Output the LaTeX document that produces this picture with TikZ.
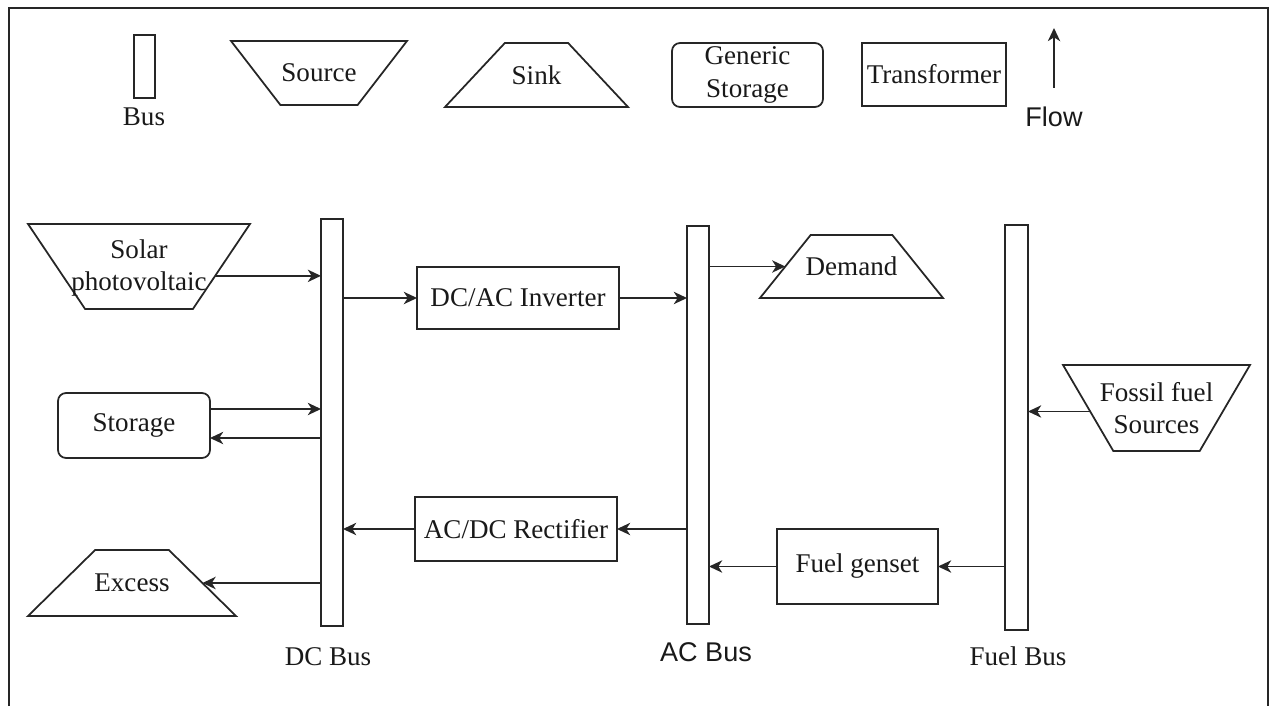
\documentclass[tikz,border=0pt]{standalone}
\usepackage{fontspec}
\setmainfont{Liberation Serif}
\newfontfamily\arialf{Liberation Sans}
\usetikzlibrary{shapes.geometric,arrows.meta,calc}
\begin{document}
\begin{tikzpicture}[x=0.02cm,y=-0.02cm,
  every node/.style={font=\fontsize{15.4}{18.5}\selectfont, text=black!90, inner sep=0pt, outer sep=0pt},
  ln/.style={draw=black!85, line width=1pt},
  boxnode/.style={ln, rectangle},
  roundnode/.style={ln, rectangle, rounded corners=0.16cm},
  trap/.style={ln, trapezium, trapezium stretches=true, inner sep=1pt},
  srcshape/.style={trap, shape border rotate=180},
  txt/.style={align=center},
  sanstxt/.style={font=\fontsize{15.4}{18.5}\selectfont\arialf},
  arr/.style={ln, -{Stealth[length=7.5pt,width=7pt,inset=2.2pt]}}
]
\useasboundingbox (0,0) rectangle (1270,706);

% frame
\draw[draw=black!85, line width=1.1pt] (9,706) -- (9,8) -- (1268,8) -- (1268,706);

% ---------- legend ----------
\node[boxnode, minimum width=0.42cm, minimum height=1.26cm] (lbus) at (144.5,66.5) {};
\node (lbustxt) at (144,117) {Bus};
\node[srcshape, minimum width=3.52cm, minimum height=1.28cm,
      trapezium left angle=57.4, trapezium right angle=57.4,
      label={[name=lsrctxt]center:Source}] (lsrc) at (319,73) {};
\node[trap, minimum width=3.66cm, minimum height=1.28cm,
      trapezium left angle=46.6, trapezium right angle=46.6,
      label={[name=lsinktxt]center:Sink}] (lsink) at (536.5,75) {};
\node[roundnode, minimum width=3.02cm, minimum height=1.28cm, txt] (lstore) at (747.5,75) {Generic\\Storage};
\node[boxnode, minimum width=2.88cm, minimum height=1.26cm] (ltrans) at (934,74.5) {Transformer};
\coordinate (flowbot) at (1054,88);
\coordinate (flowtop) at (1054,28);
\draw[arr] (flowbot) -- (flowtop);
\node[sanstxt] (flowtxt) at (1054,117) {Flow};

% ---------- buses ----------
\node[boxnode, minimum width=0.44cm, minimum height=8.14cm] (dcbus) at (332,422.5) {};
\node[boxnode, minimum width=0.44cm, minimum height=7.96cm] (acbus) at (698,425) {};
\node[boxnode, minimum width=0.46cm, minimum height=8.10cm] (fuelbus) at (1016.5,427.5) {};
\node (dcbustxt) at (328,657) {DC Bus};
\node[sanstxt] (acbustxt) at (706,652) {AC Bus};
\node (fuelbustxt) at (1018,656) {Fuel Bus};

% ---------- components ----------
\node[srcshape, minimum width=4.44cm, minimum height=1.70cm,
      trapezium left angle=62.1, trapezium right angle=62.1,
      label={[name=solartxt, txt, yshift=-0.03cm]center:Solar\\photovoltaic}] (solar) at (139,266.5) {};
\node[roundnode, minimum width=3.04cm, minimum height=1.30cm] (storage) at (134,425.5) {Storage};
\node[trap, minimum width=4.16cm, minimum height=1.32cm,
      trapezium left angle=47.7, trapezium right angle=47.7,
      label={[name=excesstxt]center:Excess}] (excess) at (132,583) {};
\node[boxnode, minimum width=4.04cm, minimum height=1.24cm] (inv) at (518,298) {DC/AC Inverter};
\node[boxnode, minimum width=4.04cm, minimum height=1.28cm] (rect) at (516,529) {AC/DC Rectifier};
\node[trap, minimum width=3.66cm, minimum height=1.26cm,
      trapezium left angle=58.2, trapezium right angle=58.2,
      label={[name=demandtxt]center:Demand}] (demand) at (851.5,266.5) {};
\node[boxnode, minimum width=3.22cm, minimum height=1.50cm] (genset) at (857.5,566.5) {Fuel genset};
\node[srcshape, minimum width=3.74cm, minimum height=1.72cm,
      trapezium left angle=59.8, trapezium right angle=59.8,
      label={[name=fossiltxt, txt]center:Fossil fuel\\Sources}] (fossil) at (1156.5,408) {};

% ---------- connectors ----------
\draw[arr] (solar.-7) -- (solar.-7 -| dcbus.west);
\coordinate (st1) at ($(storage.east)+(0,-16.5)$);
\coordinate (st2) at ($(storage.east)+(0,12.5)$);
\draw[arr] (st1) -- (st1 -| dcbus.west);
\draw[arr] (st2 -| dcbus.west) -- (st2);
\draw[arr] (dcbus.west |- excess.0) -- (excess.0);
\draw[arr] (dcbus.east |- inv.west) -- (inv.west);
\draw[arr] (inv.east) -- (inv.east -| acbus.west);
\draw[arr] (acbus.east |- demand.180) -- (demand.180);
\draw[arr] (acbus.west |- rect.east) -- (rect.east);
\draw[arr] (rect.west) -- (rect.west -| dcbus.east);
\draw[arr] (genset.west) -- (genset.west -| acbus.east);
\draw[arr] (fuelbus.west |- genset.east) -- (genset.east);
\draw[arr] (fossil.183) -- (fossil.183 -| fuelbus.east);
\end{tikzpicture}
\end{document}
